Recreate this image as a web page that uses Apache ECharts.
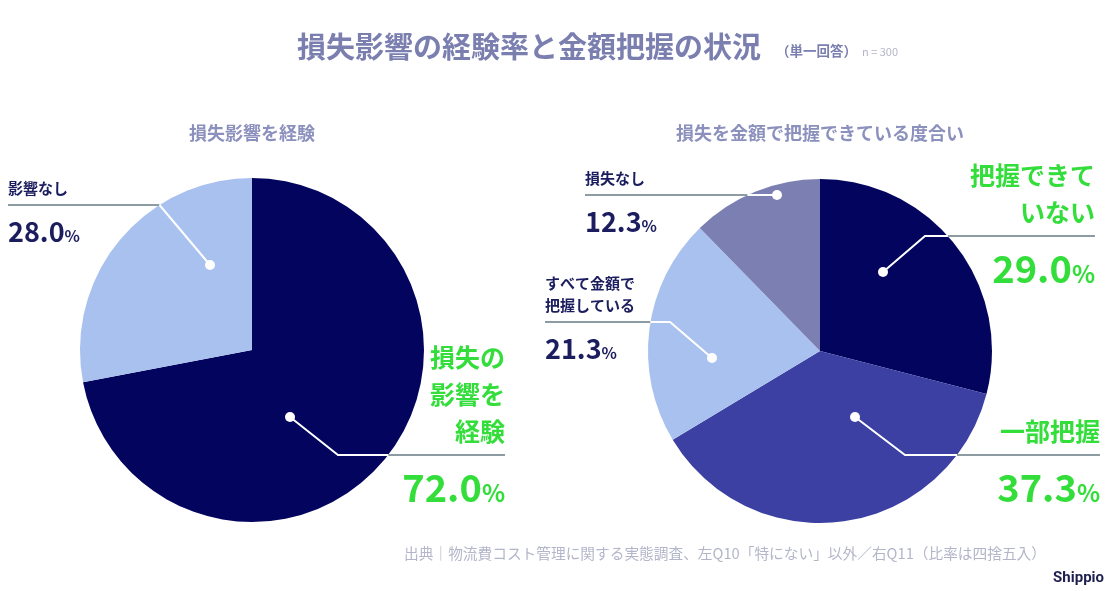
<!DOCTYPE html>
<html>
<head>
<meta charset="utf-8"/>
<title>損失影響の経験率と金額把握の状況</title>
<style type="text/css">body,html{width:100%;height:100%;margin:0;background:#fff}#chart{width:1117px;height:591px}</style>
<script src="https://cdn.jsdelivr.net/npm/echarts@6/dist/echarts.min.js"></script>
</head>
<body>
<div id="chart"></div>
<script>
var FONT = "'Noto Sans CJK JP','Noto Sans',sans-serif";

// 左：損失影響を経験
var leftNames = ['損失の影響を経験', '影響なし'];
var leftLabels = [['損失の', '影響を', '経験'], ['影響なし']];
var leftValues = [72.0, 28.0];
var leftColors = ['#03045e', '#a9c1ef'];

// 右：損失を金額で把握できている度合い
var rightNames = ['把握できていない', '一部把握', 'すべて金額で把握している', '損失なし'];
var rightLabels = [['把握できて', 'いない'], ['一部把握'], ['すべて金額で', '把握している'], ['損失なし']];
var rightValues = [29.0, 37.3, 21.3, 12.3];
var rightColors = ['#03045e', '#3b40a2', '#a9c1ef', '#7b7fb1'];

// 円の位置と吹き出し（ラベル位置・引き出し線）
var pies = [{cx: 252, cy: 350, r: 172}, {cx: 820, cy: 351, r: 172}];
var callouts = [
  [
    {big: true, x: 505, lineY: 455, dot: [290, 417], bend: [338, 455]},
    {big: false, x: 8, lineY: 205, dot: [210, 265], bend: null}
  ],
  [
    {big: true, x: 1095, lineY: 236, dot: [883, 272], bend: [925, 236]},
    {big: true, x: 1100, lineY: 455, dot: [855, 417], bend: [905, 455]},
    {big: false, x: 545, lineY: 322, dot: [712, 358], bend: [670, 322]},
    {big: false, x: 585, lineY: 195, dot: [777, 195], bend: null}
  ]
];

var NAVY = '#1b1d5e', GREEN = '#33dd3a', GREY_LINE = '#8d9ba3';

function edgeX(pie, y, side) {
  var dy = y - pie.cy;
  return pie.cx + side * Math.sqrt(pie.r * pie.r - dy * dy);
}

function labelTop(c, nLines) {
  return c.big ? c.lineY - 5 - 37 * nLines : c.lineY - 6 - 22 * nLines;
}

function makeRich(c, pie) {
  var side = c.big ? 1 : -1;
  var w = Math.abs(c.x - edgeX(pie, c.lineY, side));
  var al = c.big ? 'right' : 'left';
  return {
    nS: {fontFamily: FONT, fontSize: 15, fontWeight: 'bold', color: NAVY, lineHeight: 22, align: al},
    nL: {fontFamily: FONT, fontSize: 25, fontWeight: 'bold', color: GREEN, lineHeight: 37, align: al},
    hr: {width: w, height: 2, backgroundColor: GREY_LINE, lineHeight: c.big ? 10 : 12, align: al},
    vS: {fontFamily: FONT, fontSize: 27, fontWeight: 'bold', color: NAVY, lineHeight: 42, align: al},
    pS: {fontFamily: FONT, fontSize: 16, fontWeight: 'bold', color: NAVY, lineHeight: 42, padding: [7, 0, 0, 0], align: al},
    vL: {fontFamily: FONT, fontSize: 38, fontWeight: 'bold', color: GREEN, lineHeight: 56, align: al},
    pL: {fontFamily: FONT, fontSize: 24, fontWeight: 'bold', color: GREEN, lineHeight: 56, padding: [9, 0, 0, 0], align: al}
  };
}

function buildData(names, labels, values, colors, p) {
  return values.map(function (v, i) {
    var c = callouts[p][i];
    var n = c.big ? 'nL' : 'nS', vs = c.big ? 'vL' : 'vS', ps = c.big ? 'pL' : 'pS';
    var text = labels[i].map(function (s) { return '{' + n + '|' + s + '}'; }).join('\n') +
      '\n{hr|}\n{' + vs + '|' + v.toFixed(1) + '}{' + ps + '|%}';
    return {
      name: names[i],
      value: v,
      itemStyle: {color: colors[i]},
      label: {formatter: text, rich: makeRich(c, pies[p]), align: c.big ? 'right' : 'left'}
    };
  });
}

function makeLayout(p, labels) {
  return function (params) {
    var c = callouts[p][params.dataIndex];
    return {
      x: c.x,
      y: labelTop(c, labels[params.dataIndex].length),
      align: c.big ? 'right' : 'left',
      verticalAlign: 'top'
    };
  };
}

function pieSeries(p, names, labels, values, colors) {
  return {
    type: 'pie',
    center: [pies[p].cx, pies[p].cy],
    radius: pies[p].r,
    startAngle: 90,
    clockwise: true,
    avoidLabelOverlap: false,
    silent: true,
    label: {show: true, position: 'outside'},
    labelLine: {show: false},
    labelLayout: makeLayout(p, labels),
    emphasis: {disabled: true},
    data: buildData(names, labels, values, colors, p)
  };
}

// 円の中の白い引き出し線と点
var leaders = [];
callouts.forEach(function (list, p) {
  list.forEach(function (c) {
    var end = [edgeX(pies[p], c.lineY, c.big ? 1 : -1), c.lineY];
    var pts = c.bend ? [c.dot, c.bend, end] : [c.dot, end];
    leaders.push({type: 'polyline', z: 99, shape: {points: pts}, style: {stroke: '#ffffff', lineWidth: 2, fill: null}});
    leaders.push({type: 'circle', z: 100, shape: {cx: c.dot[0], cy: c.dot[1], r: 5}, style: {fill: '#ffffff'}});
  });
});

function txt(x, y, text, font, fill, align) {
  return {type: 'text', x: x, y: y, z: 100,
    style: {text: text, font: font, fill: fill, align: align, textAlign: align, verticalAlign: 'middle', textVerticalAlign: 'middle'}};
}

var texts = [
  txt(297, 47, '損失影響の経験率と金額把握の状況', 'bold 29px ' + FONT, '#7b7fb0', 'left'),
  txt(776, 51, '（単一回答）', 'bold 13.5px ' + FONT, '#7b7fb0', 'left'),
  txt(862, 52, 'n = 300', '11px ' + FONT, '#b3b6c8', 'left'),
  txt(252, 133, '損失影響を経験', 'bold 18px ' + FONT, '#8b90bd', 'center'),
  txt(820, 133, '損失を金額で把握できている度合い', 'bold 18px ' + FONT, '#8b90bd', 'center'),
  txt(1046, 553, '出典｜物流費コスト管理に関する実態調査、左Q10「特にない」以外／右Q11（比率は四捨五入）', '14.7px ' + FONT, '#b3b6c9', 'right'),
  txt(1104, 578, 'Shippio', 'bold 15px Roboto, ' + FONT, '#1d2050', 'right')
];

var chart = echarts.init(document.getElementById('chart'));
chart.setOption({
  backgroundColor: '#ffffff',
  animation: false,
  series: [
    pieSeries(0, leftNames, leftLabels, leftValues, leftColors),
    pieSeries(1, rightNames, rightLabels, rightValues, rightColors)
  ],
  graphic: texts.concat(leaders)
});
</script>
</body>
</html>
